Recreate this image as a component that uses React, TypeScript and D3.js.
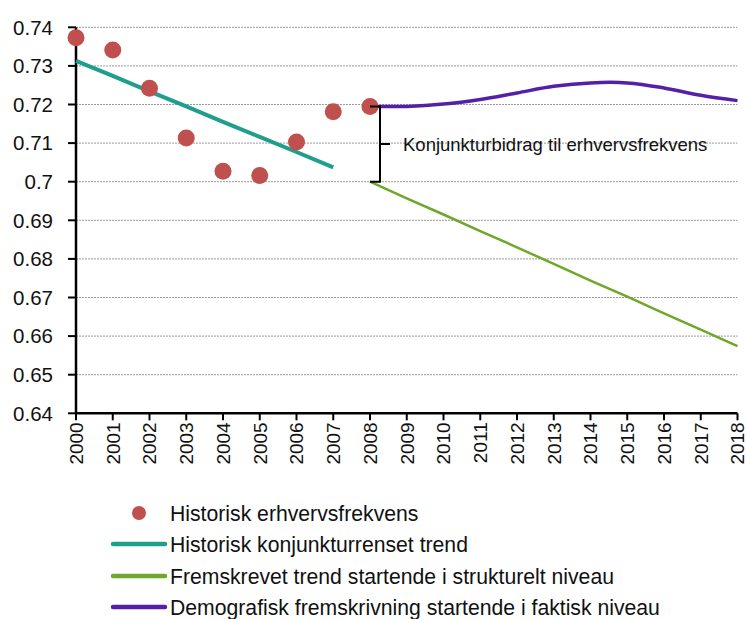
import React from "react";
import * as d3 from "d3";

const years = [2000, 2001, 2002, 2003, 2004, 2005, 2006, 2007, 2008, 2009, 2010, 2011, 2012, 2013, 2014, 2015, 2016, 2017, 2018];
const yTicks = [0.64, 0.65, 0.66, 0.67, 0.68, 0.69, 0.7, 0.71, 0.72, 0.73, 0.74];

const histYears = [2000, 2001, 2002, 2003, 2004, 2005, 2006, 2007, 2008];
const histValues = [0.7373, 0.7341, 0.7242, 0.7113, 0.7027, 0.7016, 0.7103, 0.7181, 0.7195];

const trendYears = [2000, 2001, 2002, 2003, 2004, 2005, 2006, 2007];
const trendValues = [0.7313, 0.7274, 0.7234, 0.7195, 0.7155, 0.7116, 0.7077, 0.7037];

const projYears = [2008, 2009, 2010, 2011, 2012, 2013, 2014, 2015, 2016, 2017, 2018];
const greenValues = [0.7, 0.6957, 0.6915, 0.6872, 0.683, 0.6787, 0.6744, 0.6702, 0.6659, 0.6617, 0.6574];
const purpleValues = [0.7195, 0.7195, 0.7201, 0.7213, 0.723, 0.7247, 0.7256, 0.7256, 0.7243, 0.7224, 0.721];

const legendLabels = [
  "Historisk erhvervsfrekvens",
  "Historisk konjunkturrenset trend",
  "Fremskrevet trend startende i strukturelt niveau",
  "Demografisk fremskrivning startende i faktisk niveau",
];
const annotation = "Konjunkturbidrag til erhvervsfrekvens";

const RED = "#c0504d";
const TEAL = "#1f9e8b";
const GREEN = "#6fa72a";
const PURPLE = "#5520a8";
const FONT = "'Liberation Sans', Arial, sans-serif";

export default function App() {
  const W = 747, H = 619;
  const x = d3.scaleLinear().domain([2000, 2018]).range([76, 737.5]);
  const y = d3.scaleLinear().domain([0.64, 0.74]).range([413.3, 27.3]);

  const lineGen = (xs: number[], vs: number[], curve: any) =>
    d3.line<number>().x((_, i) => x(xs[i])).y((v) => y(v)).curve(curve)(vs) || "";

  const bx = x(2008);
  const yTop = y(histValues[8]);
  const yBot = y(greenValues[0]);
  const yMid = (yTop + yBot) / 2;

  const legendX0 = 113, legendX1 = 165, legendTX = 170;
  const legendY = [513, 544, 576, 607];

  return (
    <svg width={W} height={H} style={{ position: "absolute", left: 0, top: 0, background: "#fff" }} fontFamily={FONT}>
      {/* gridlines */}
      {yTicks.slice(1).map((t) => (
        <line key={"g" + t} x1={x(2000)} x2={x(2018)} y1={y(t)} y2={y(t)} stroke="#9a9a9a" strokeWidth={1} strokeDasharray="2,1" />
      ))}
      {/* y axis */}
      <line x1={x(2000)} x2={x(2000)} y1={y(0.74)} y2={y(0.64)} stroke="#000" strokeWidth={2.5} />
      {yTicks.map((t) => (
        <g key={"yt" + t}>
          <line x1={x(2000) - 8} x2={x(2000)} y1={y(t)} y2={y(t)} stroke="#000" strokeWidth={2} />
          <text x={53} y={y(t)} dy="0.36em" textAnchor="end" fontSize={20.5} fill="#111">{String(t)}</text>
        </g>
      ))}
      {/* x axis */}
      <line x1={x(2000)} x2={x(2018)} y1={y(0.64)} y2={y(0.64)} stroke="#000" strokeWidth={2.5} />
      {years.map((yr) => (
        <g key={"xt" + yr}>
          <line x1={x(yr)} x2={x(yr)} y1={y(0.64)} y2={y(0.64) + 7} stroke="#000" strokeWidth={2} />
          <text transform={`translate(${x(yr)},${y(0.64) + 9}) rotate(-90)`} dy="0.36em" textAnchor="end" fontSize={19} fill="#111">{yr}</text>
        </g>
      ))}
      {/* lines */}
      <path d={lineGen(trendYears, trendValues, d3.curveLinear)} fill="none" stroke={TEAL} strokeWidth={4} />
      <path d={lineGen(projYears, greenValues, d3.curveLinear)} fill="none" stroke={GREEN} strokeWidth={2.5} />
      <path d={lineGen(projYears, purpleValues, d3.curveCatmullRom)} fill="none" stroke={PURPLE} strokeWidth={3.5} />
      {/* dots */}
      {histValues.map((v, i) => (
        <circle key={"d" + i} cx={x(histYears[i])} cy={y(v)} r={8.5} fill={RED} />
      ))}
      {/* brace */}
      <path d={`M${bx},${yTop} H${bx + 10} V${yBot} H${bx} M${bx + 10},${yMid} H${bx + 20}`} fill="none" stroke="#000" strokeWidth={2} />
      <text x={403} y={yMid} dy="0.36em" fontSize={18.5} fill="#111">{annotation}</text>
      {/* legend */}
      <circle cx={139} cy={legendY[0]} r={7} fill={RED} />
      {[TEAL, GREEN, PURPLE].map((c, i) => (
        <line key={"ll" + i} x1={legendX0} x2={legendX1} y1={legendY[i + 1]} y2={legendY[i + 1]} stroke={c} strokeWidth={4.5} strokeLinecap="round" />
      ))}
      {legendLabels.map((l, i) => (
        <text key={"lt" + i} x={legendTX} y={legendY[i]} dy="0.36em" fontSize={21.2} fill="#111">{l}</text>
      ))}
    </svg>
  );
}
